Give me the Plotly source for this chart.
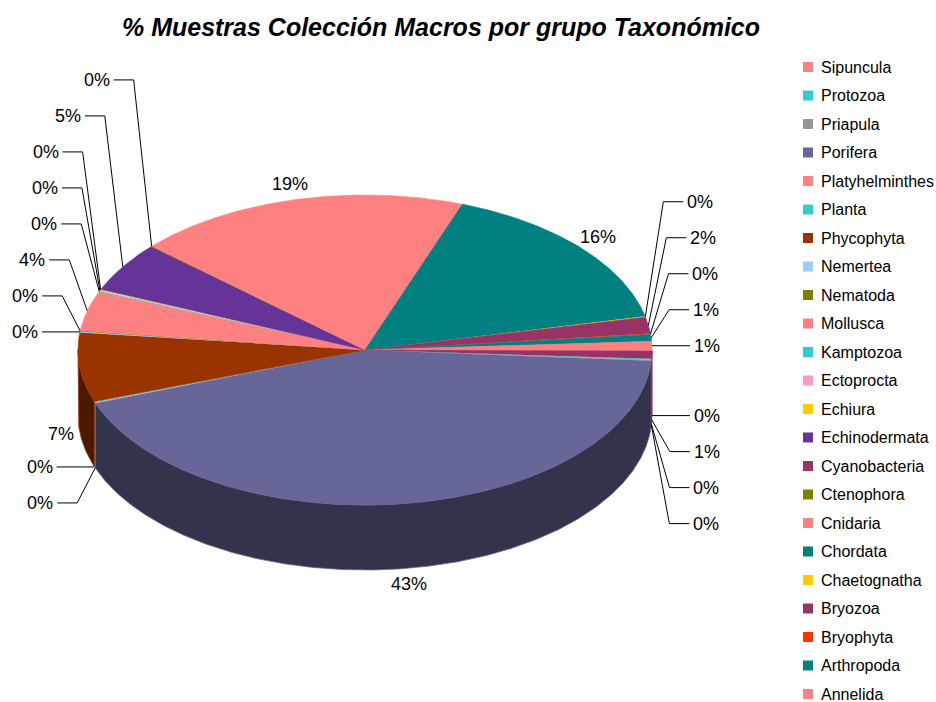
import numpy as np
import plotly.graph_objects as go

# ---------------- data ----------------
categories = ["Sipuncula", "Protozoa", "Priapula", "Porifera", "Platyhelminthes", "Planta",
              "Phycophyta", "Nemertea", "Nematoda", "Mollusca", "Kamptozoa", "Ectoprocta",
              "Echiura", "Echinodermata", "Cyanobacteria", "Ctenophora", "Cnidaria", "Chordata",
              "Chaetognatha", "Bryozoa", "Bryophyta", "Arthropoda", "Annelida"]
values = [0.1, 0.1, 0.1, 43.3, 0.1, 0.1,
          7.2, 0.1, 0.1, 4.1, 0.1, 0.1,
          0.1, 5.2, 0.8, 0.1, 18.8, 16.0,
          0.1, 1.7, 0.1, 0.7, 0.9]
colors = ["#FF8080", "#33CCCC", "#969696", "#666699", "#FF8080", "#33CCCC",
          "#993300", "#99CCFF", "#808000", "#FF8080", "#33CCCC", "#FF99CC",
          "#FFCC00", "#663399", "#993366", "#808000", "#FF8080", "#008080",
          "#FFCC00", "#993366", "#FF3300", "#008080", "#FF8080"]
# clockwise arrangement of the slices, starting at the right side
slice_order = ["Porifera", "Platyhelminthes", "Planta", "Phycophyta", "Nemertea", "Nematoda",
               "Mollusca", "Kamptozoa", "Ectoprocta", "Echiura", "Echinodermata", "Ctenophora",
               "Cnidaria", "Chordata", "Chaetognatha", "Bryozoa", "Bryophyta", "Arthropoda",
               "Annelida", "Sipuncula", "Cyanobacteria", "Protozoa", "Priapula"]
title_text = "% Muestras Colección Macros por grupo Taxonómico"

# ---------------- geometry / style ----------------
W, H = 936, 702
cx, cy, rx, ry, depth = 365, 350, 287, 155, 65
start_deg = 4.0
FONT = "Liberation Sans, Arial, sans-serif"
FS_LEG = 16
FS_LAB = 18
STEP = 36


def darker(hexc, f=0.5):
    h = hexc.lstrip("#")
    r, g, b = (int(h[i:i + 2], 16) for i in (0, 2, 4))
    return "rgb(%d,%d,%d)" % (r * f, g * f, b * f)


val = dict(zip(categories, values))
col = dict(zip(categories, colors))
total = sum(values)

fig = go.Figure()

# compute slice angles
slices = []
a = start_deg
for name in slice_order:
    span = val[name] / total * 360.0
    slices.append((name, a, a + span))
    a += span


def ell(t_deg, dy=0.0):
    t = np.radians(t_deg)
    return cx + rx * np.cos(t), cy + ry * np.sin(t) + dy


# outer walls (front half only)
for name, a0, a1 in slices:
    lw = 0.8 if (a1 - a0) > 1.0 else 0
    for k in (0.0, 360.0):
        lo, hi = max(a0, k), min(a1, k + 180.0)
        if hi > lo:
            n = max(2, int((hi - lo) / 0.4) + 2)
            t = np.linspace(lo, hi, n)
            xt, yt = ell(t)
            xb, yb = ell(t[::-1], depth)
            fig.add_trace(go.Scatter(
                x=np.concatenate([xt, xb, xt[:1]]), y=np.concatenate([yt, yb, yt[:1]]),
                mode="lines", fill="toself", fillcolor=darker(col[name]),
                line=dict(color=col[name], width=lw), hoverinfo="skip", showlegend=False))

# top faces
for name, a0, a1 in slices:
    lw = 0.6 if (a1 - a0) > 1.0 else 0
    n = max(2, int((a1 - a0) / 0.4) + 2)
    t = np.linspace(a0, a1, n)
    xt, yt = ell(t)
    fig.add_trace(go.Scatter(
        x=np.concatenate([[cx], xt, [cx]]), y=np.concatenate([[cy], yt, [cy]]),
        mode="lines", fill="toself", fillcolor=col[name],
        line=dict(color=col[name], width=lw), hoverinfo="skip", showlegend=False))

# ---------------- data labels ----------------
annotations = []
groups = {"UR": [], "LR": [], "UL": [], "LL": []}
for name, a0, a1 in slices:
    m = (a0 + a1) / 2.0
    mr = np.radians(m)
    ex, ey = ell(m)
    front = np.sin(mr) > 0
    if front:
        ey += depth
    pct = int(round(val[name] / total * 100))
    txt = "%d%%" % pct
    if pct >= 6:
        w = FS_LAB * (0.556 * len(str(pct)) + 0.889)
        h = FS_LAB * 1.1
        g = 6
        lx = ex + np.cos(mr) * (w / 2 + g)
        ly = ey + np.sin(mr) * (h / 2 + g)
        annotations.append(dict(x=lx, y=ly, xref="x", yref="y", text=txt, showarrow=False,
                                xanchor="center", yanchor="middle",
                                font=dict(family=FONT, size=FS_LAB, color="black")))
    else:
        side = ("U" if not front else "L") + ("R" if np.cos(mr) >= 0 else "L")
        groups[side].append((ex, ey, txt))

lx_all, ly_all = [], []
for side, items in groups.items():
    upper = side[0] == "U"
    right = side[1] == "R"
    items = sorted(items, key=lambda it: it[1], reverse=upper)
    prev = None
    for ex, ey, txt in items:
        if prev is None:
            ly = ey
        else:
            ly = min(ey, prev - STEP) if upper else max(ey, prev + STEP)
        prev = ly
        sgn = 1 if right else -1
        lx_all += [ex + sgn * 38, ex + sgn * 18, ex, None]
        ly_all += [ly, ly, ey, None]
        annotations.append(dict(x=ex + sgn * 40, y=ly, xref="x", yref="y", text=txt,
                                showarrow=False, xanchor="left" if right else "right",
                                yanchor="middle",
                                font=dict(family=FONT, size=FS_LAB, color="black")))

fig.add_trace(go.Scatter(x=lx_all, y=ly_all, mode="lines",
                         line=dict(color="black", width=1), hoverinfo="skip",
                         showlegend=False))

# ---------------- legend ----------------
leg_x, leg_y0, leg_step = 808, 67, 28.5
leg_y = [leg_y0 + i * leg_step for i in range(len(categories))]
fig.add_trace(go.Scatter(x=[leg_x] * len(categories), y=leg_y, mode="markers",
                         marker=dict(symbol="square", size=10, color=colors,
                                     line=dict(width=0)),
                         hoverinfo="skip", showlegend=False))
for name, y in zip(categories, leg_y):
    annotations.append(dict(x=leg_x + 11, y=y, xref="x", yref="y", text=name,
                            showarrow=False, xanchor="left", yanchor="middle",
                            font=dict(family=FONT, size=FS_LEG, color="black")))

fig.update_layout(
    width=W, height=H,
    margin=dict(l=0, r=0, t=0, b=0),
    paper_bgcolor="white", plot_bgcolor="white",
    showlegend=False,
    title=dict(text=title_text, x=441 / W, xanchor="center", y=1 - 27 / H, yanchor="middle",
               font=dict(family=FONT, size=25, color="black", weight="bold", style="italic")),
    xaxis=dict(range=[0, W], visible=False, fixedrange=True),
    yaxis=dict(range=[H, 0], visible=False, fixedrange=True),
    annotations=annotations,
)

fig.write_html("out.html")
